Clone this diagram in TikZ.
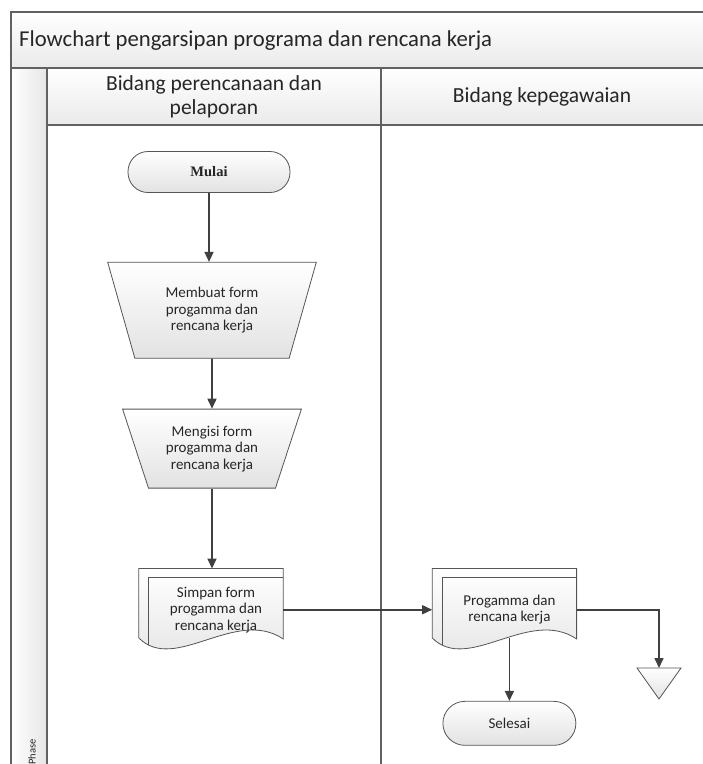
\documentclass[tikz,border=0pt]{standalone}
\usepackage{fontspec}
\setmainfont{Carlito}
\newfontfamily\mulaiserif{Liberation Serif}
\usetikzlibrary{arrows.meta, positioning, shapes.geometric, calc}
\definecolor{lanegray}{HTML}{616161}
\definecolor{shapeline}{HTML}{555555}
\definecolor{arrgray}{HTML}{404040}
\definecolor{shapegray}{HTML}{E2E2E2}
\definecolor{bandgray}{HTML}{EAEAEA}
\definecolor{phasegray}{HTML}{E6E6E6}
\definecolor{textgray}{HTML}{262626}
\pgfdeclarelayer{background}
\pgfsetlayers{background,main}
\newcommand{\titlefont}{\fontsize{22.7}{26}\selectfont}
\newcommand{\headfont}{\fontsize{21.5}{24}\selectfont}
\newcommand{\shapefont}{\fontsize{15}{16.5}\selectfont}
\newcommand{\mulaifont}{\mulaiserif\bfseries\fontsize{14.5}{16}\selectfont}
% stacked sheet drawn behind a document node
\newcommand{\docsheet}[1]{%
  \path[sheet] ($(#1.north west)+(-10,-9)$) -- ($(#1.north east)+(0,-9)$) -- ($(#1.south east)+(0,-3)$)
    .. controls ($(#1.south east)+(-48,-35)$) and ($(#1.south west)+(26,32)$) .. ($(#1.south west)+(-10,-4)$) -- cycle;
  \begin{scope}
    \clip ($(#1.north west)+(-10,-9)$) -- ($(#1.north east)+(0,-9)$) -- ($(#1.south east)+(0,-3)$)
      .. controls ($(#1.south east)+(-48,-35)$) and ($(#1.south west)+(26,32)$) .. ($(#1.south west)+(-10,-4)$) -- cycle;
    \draw[draw=shapeline, line width=0.8pt] (#1.north east) -- (#1.north west) -- ($(#1.south west)+(0,20)$);
  \end{scope}}

\begin{document}
\begin{tikzpicture}[x=1pt, y=-1pt, text=textgray,
  lane/.style={draw=lanegray, line width=1.3pt},
  band/.style={top color=white, bottom color=bandgray},
  term/.style={rectangle, rounded corners=20pt, draw=shapeline, line width=0.8pt,
               top color=white, bottom color=shapegray, font=\shapefont},
  manual/.style={trapezium, trapezium stretches=true, draw=shapeline, line width=0.8pt,
                 top color=white, bottom color=shapegray, font=\shapefont, align=center},
  docbox/.style={rectangle, minimum width=134pt, minimum height=64pt, align=center, font=\shapefont},
  sheet/.style={draw=shapeline, line width=0.8pt, top color=white, bottom color=shapegray},
  arr/.style={-{Triangle[length=10pt, width=9pt]}, line width=1.6pt, arrgray}]
  \useasboundingbox (0,0) rectangle (703,764);
  % pool and lanes
  \fill[band] (11,12) rectangle (720,68);
  \fill[band] (47,68) rectangle (720,125);
  \fill[left color=white, right color=phasegray] (11,68) rectangle (47,780);
  \draw[lane] (11,780) -- (11,12) -- (720,12);
  \draw[lane] (11,68) -- (720,68) (47,125) -- (720,125) (47,68) -- (47,780) (381,68) -- (381,780);
  \node[anchor=west, inner sep=0pt, font=\titlefont] (title) at (19,41) {Flowchart pengarsipan programa dan rencana kerja};
  \node[align=center, font=\headfont] (lanea) at (214,97) {Bidang perencanaan dan\\pelaporan};
  \node[font=\headfont] (laneb) at (542,97) {Bidang kepegawaian};
  \node[rotate=90, anchor=west, inner sep=0pt, font=\fontsize{10.5}{12}\selectfont] (phase) at (32,765) {Phase};
  % flow
  \node[term, minimum width=162pt, minimum height=41pt, font=\mulaifont] (start) at (209,172) {Mulai};
  \node[manual, trapezium left angle=108.4, trapezium right angle=108.4, minimum width=209pt,
        minimum height=96pt, below=69pt of start, xshift=3pt] (make) {Membuat form\\progamma dan\\rencana kerja};
  \node[manual, trapezium left angle=111, trapezium right angle=111, minimum width=179pt,
        minimum height=79pt, below=50pt of make] (entry) {Mengisi form\\progamma dan\\rencana kerja};
  \node[docbox, below=89pt of entry, xshift=4pt] (save) {Simpan form\\progamma dan\\rencana kerja};
  \node[docbox, right=159pt of save] (archive) {Progamma dan\\rencana kerja};
  \node[term, rounded corners=22pt, minimum width=133pt, minimum height=44pt, below=59pt of archive] (finish) {Selesai};
  \coordinate (store) at (659,668);
  \begin{pgfonlayer}{background}
    \docsheet{save}
    \docsheet{archive}
  \end{pgfonlayer}
  \draw[sheet] (store) ++(-22,0) -- ++(44,0) -- ++(-22,31) -- cycle;
  \draw[arr] (start) -- (start |- make.north);
  \draw[arr] (make) -- (entry);
  \draw[arr, shorten >=9pt] (entry.south) -- (entry.south |- save.north);
  \draw[arr, shorten >=10pt] (save) -- (archive);
  \draw[arr] (archive.east) -| (store);
  \draw[arr, shorten <=-4pt] (archive.south) -- (finish);
\end{tikzpicture}
\end{document}
